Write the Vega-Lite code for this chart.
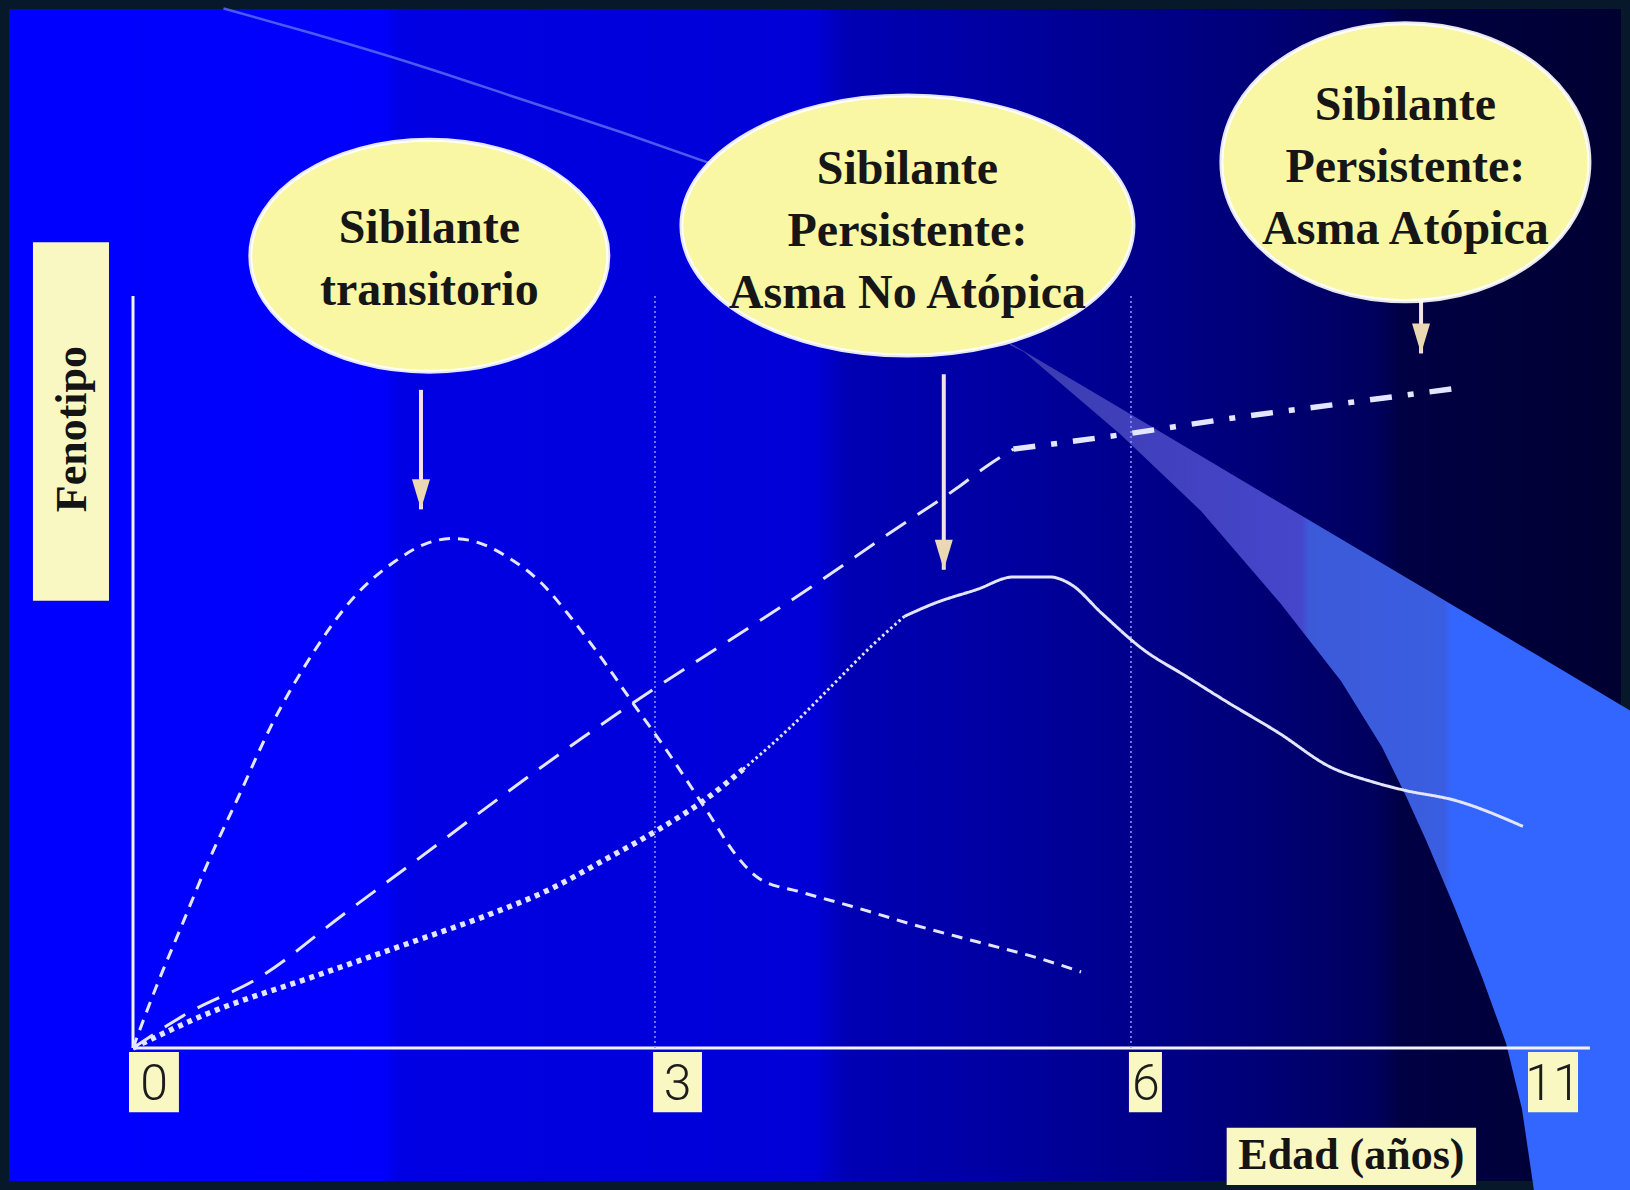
{
  "$schema": "https://vega.github.io/schema/vega-lite/v6.json",
  "width": 1630,
  "height": 1190,
  "autosize": {"type": "none"},
  "padding": 0,
  "background": "#06182a",
  "view": {
    "fill": {"gradient": "linear", "x1": 0, "y1": 0, "x2": 1, "y2": 0, "stops": [
      {"offset": 0, "color": "#0000ff"},
      {"offset": 0.235, "color": "#0000fb"},
      {"offset": 0.245, "color": "#0000e4"},
      {"offset": 0.5, "color": "#0000d6"},
      {"offset": 0.52, "color": "#0000b4"},
      {"offset": 0.62, "color": "#0000a0"},
      {"offset": 0.7, "color": "#00008a"},
      {"offset": 0.78, "color": "#000074"},
      {"offset": 0.845, "color": "#00005c"},
      {"offset": 0.86, "color": "#000044"},
      {"offset": 1, "color": "#000030"}
    ]},
    "stroke": "#06182a",
    "strokeWidth": 18
  },
  "config": {"axis": {"disable": true}, "legend": {"disable": true}},
  "datasets": {
    "arco": [
      {"edad": 0.52, "fenotipo": 138.25},
      {"edad": 1.028, "fenotipo": 134.94},
      {"edad": 1.625, "fenotipo": 130.79},
      {"edad": 2.223, "fenotipo": 126.23},
      {"edad": 2.82, "fenotipo": 121.67},
      {"edad": 3.458, "fenotipo": 116.83}
    ],
    "haz": [
      {"edad": 5.237, "borde_sup": 93.75, "borde_inf": 93.48},
      {"edad": 5.326, "borde_sup": 92.65, "borde_inf": 92.55},
      {"edad": 5.931, "borde_sup": 85.09, "borde_inf": 81.65},
      {"edad": 6.882, "borde_sup": 78.71, "borde_inf": 71.41},
      {"edad": 7.889, "borde_sup": 72.41, "borde_inf": 59.04},
      {"edad": 8.645, "borde_sup": 67.69, "borde_inf": 48.8},
      {"edad": 9.161, "borde_sup": 64.47, "borde_inf": 40.03},
      {"edad": 9.463, "borde_sup": 62.58, "borde_inf": 33.51},
      {"edad": 9.715, "borde_sup": 61.0, "borde_inf": 27.66},
      {"edad": 10.068, "borde_sup": 58.79, "borde_inf": 18.88},
      {"edad": 10.421, "borde_sup": 56.58, "borde_inf": 9.44},
      {"edad": 10.723, "borde_sup": 54.69, "borde_inf": 0.66},
      {"edad": 10.924, "borde_sup": 53.43, "borde_inf": -8.11},
      {"edad": 11.076, "borde_sup": 52.49, "borde_inf": -19},
      {"edad": 12.3, "borde_sup": 44.8, "borde_inf": -19}
    ],
    "referencias": [
      {"tipo": "eje", "x1": 0, "x2": 0, "y1": 0, "y2": 100},
      {"tipo": "eje", "x1": 0, "x2": 11.78, "y1": 0, "y2": 0},
      {"tipo": "guia", "x1": 3, "x2": 3, "y1": 0, "y2": 100},
      {"tipo": "guia", "x1": 6, "x2": 6, "y1": 0, "y2": 100}
    ],
    "curvas": [
      {"segmento": "transitorio", "edad": 0, "fenotipo": 0},
      {"segmento": "transitorio", "edad": 0.132, "fenotipo": 8.04},
      {"segmento": "transitorio", "edad": 0.281, "fenotipo": 16.34},
      {"segmento": "transitorio", "edad": 0.43, "fenotipo": 24.63},
      {"segmento": "transitorio", "edad": 0.61, "fenotipo": 33.61},
      {"segmento": "transitorio", "edad": 0.789, "fenotipo": 42.6},
      {"segmento": "transitorio", "edad": 1.028, "fenotipo": 52.28},
      {"segmento": "transitorio", "edad": 1.267, "fenotipo": 59.88},
      {"segmento": "transitorio", "edad": 1.506, "fenotipo": 64.72},
      {"segmento": "transitorio", "edad": 1.685, "fenotipo": 67.07},
      {"segmento": "transitorio", "edad": 1.834, "fenotipo": 67.76},
      {"segmento": "transitorio", "edad": 1.984, "fenotipo": 67.21},
      {"segmento": "transitorio", "edad": 2.163, "fenotipo": 65.13},
      {"segmento": "transitorio", "edad": 2.342, "fenotipo": 61.95},
      {"segmento": "transitorio", "edad": 2.521, "fenotipo": 57.11},
      {"segmento": "transitorio", "edad": 2.701, "fenotipo": 51.58},
      {"segmento": "transitorio", "edad": 2.88, "fenotipo": 45.64},
      {"segmento": "transitorio", "edad": 3.065, "fenotipo": 39.83},
      {"segmento": "transitorio", "edad": 3.327, "fenotipo": 31.54},
      {"segmento": "transitorio", "edad": 3.523, "fenotipo": 25.32},
      {"segmento": "transitorio", "edad": 3.654, "fenotipo": 22.56},
      {"segmento": "transitorio", "edad": 3.916, "fenotipo": 20.76},
      {"segmento": "transitorio", "edad": 4.244, "fenotipo": 18.82},
      {"segmento": "transitorio", "edad": 4.637, "fenotipo": 16.34},
      {"segmento": "transitorio", "edad": 5.03, "fenotipo": 14.12},
      {"segmento": "transitorio", "edad": 5.423, "fenotipo": 11.91},
      {"segmento": "transitorio", "edad": 5.685, "fenotipo": 10.11},
      {"segmento": "atopico_raya", "edad": 0, "fenotipo": 0},
      {"segmento": "atopico_raya", "edad": 0.311, "fenotipo": 4.59},
      {"segmento": "atopico_raya", "edad": 0.729, "fenotipo": 9.42},
      {"segmento": "atopico_raya", "edad": 1.207, "fenotipo": 17.72},
      {"segmento": "atopico_raya", "edad": 1.625, "fenotipo": 24.91},
      {"segmento": "atopico_raya", "edad": 2.103, "fenotipo": 33.2},
      {"segmento": "atopico_raya", "edad": 2.581, "fenotipo": 41.22},
      {"segmento": "atopico_raya", "edad": 3.0, "fenotipo": 47.85},
      {"segmento": "atopico_raya", "edad": 3.458, "fenotipo": 54.07},
      {"segmento": "atopico_raya", "edad": 3.982, "fenotipo": 61.26},
      {"segmento": "atopico_raya", "edad": 4.506, "fenotipo": 68.86},
      {"segmento": "atopico_raya", "edad": 4.899, "fenotipo": 74.39},
      {"segmento": "atopico_raya", "edad": 5.095, "fenotipo": 77.43},
      {"segmento": "atopico_raya", "edad": 5.259, "fenotipo": 79.64},
      {"segmento": "atopico_rayapunto", "edad": 5.259, "fenotipo": 79.64},
      {"segmento": "atopico_rayapunto", "edad": 5.947, "fenotipo": 81.58},
      {"segmento": "atopico_rayapunto", "edad": 7.205, "fenotipo": 83.65},
      {"segmento": "atopico_rayapunto", "edad": 8.776, "fenotipo": 85.86},
      {"segmento": "atopico_rayapunto", "edad": 10.15, "fenotipo": 87.8},
      {"segmento": "no_atopico_puntos", "edad": 0, "fenotipo": 0},
      {"segmento": "no_atopico_puntos", "edad": 0.43, "fenotipo": 4.59},
      {"segmento": "no_atopico_puntos", "edad": 1.028, "fenotipo": 9.42},
      {"segmento": "no_atopico_puntos", "edad": 1.625, "fenotipo": 14.26},
      {"segmento": "no_atopico_puntos", "edad": 2.044, "fenotipo": 17.72},
      {"segmento": "no_atopico_puntos", "edad": 2.402, "fenotipo": 21.17},
      {"segmento": "no_atopico_puntos", "edad": 2.701, "fenotipo": 24.91},
      {"segmento": "no_atopico_puntos", "edad": 3.0, "fenotipo": 28.78},
      {"segmento": "no_atopico_puntos", "edad": 3.327, "fenotipo": 33.2},
      {"segmento": "no_atopico_puntos", "edad": 3.556, "fenotipo": 37.07},
      {"segmento": "no_atopico_puntitos", "edad": 3.556, "fenotipo": 37.07},
      {"segmento": "no_atopico_puntitos", "edad": 3.851, "fenotipo": 42.6},
      {"segmento": "no_atopico_puntitos", "edad": 4.113, "fenotipo": 48.13},
      {"segmento": "no_atopico_puntitos", "edad": 4.375, "fenotipo": 53.66},
      {"segmento": "no_atopico_puntitos", "edad": 4.571, "fenotipo": 57.39},
      {"segmento": "no_atopico_continua", "edad": 4.571, "fenotipo": 57.39},
      {"segmento": "no_atopico_continua", "edad": 4.768, "fenotipo": 59.19},
      {"segmento": "no_atopico_continua", "edad": 5.03, "fenotipo": 60.98},
      {"segmento": "no_atopico_continua", "edad": 5.259, "fenotipo": 62.64},
      {"segmento": "no_atopico_continua", "edad": 5.489, "fenotipo": 62.64},
      {"segmento": "no_atopico_continua", "edad": 5.62, "fenotipo": 61.67},
      {"segmento": "no_atopico_continua", "edad": 5.816, "fenotipo": 57.8},
      {"segmento": "no_atopico_continua", "edad": 6.157, "fenotipo": 52.97},
      {"segmento": "no_atopico_continua", "edad": 6.681, "fenotipo": 49.51},
      {"segmento": "no_atopico_continua", "edad": 7.205, "fenotipo": 46.05},
      {"segmento": "no_atopico_continua", "edad": 7.859, "fenotipo": 41.91},
      {"segmento": "no_atopico_continua", "edad": 8.514, "fenotipo": 37.35},
      {"segmento": "no_atopico_continua", "edad": 9.037, "fenotipo": 35.41},
      {"segmento": "no_atopico_continua", "edad": 9.43, "fenotipo": 34.31},
      {"segmento": "no_atopico_continua", "edad": 10.085, "fenotipo": 32.92},
      {"segmento": "no_atopico_continua", "edad": 10.936, "fenotipo": 29.47}
    ],
    "flechas": [
      {"edad": 1.655, "desde": 87.52, "hasta": 71.63},
      {"edad": 4.82, "desde": 89.6, "hasta": 63.61},
      {"edad": 9.653, "desde": 102.31, "hasta": 92.36}
    ],
    "globos": [
      {"grupo": "Sibilante transitorio", "edad": 1.703, "fenotipo": 105.36, "texto": "Sibilante\ntransitorio"},
      {"grupo": "Asma no atópica", "edad": 4.591, "fenotipo": 109.36, "texto": "Sibilante\nPersistente:\nAsma No Atópica"},
      {"grupo": "Asma atópica", "edad": 9.456, "fenotipo": 117.8, "texto": "Sibilante\nPersistente:\nAsma Atópica"}
    ],
    "etiquetas": [
      {"tipo": "marca", "texto": "0", "x1": -0.023, "x2": 0.264, "y1": -0.53, "y2": -8.55, "xc": 0.121, "yc": -4.6},
      {"tipo": "marca", "texto": "3", "x1": 2.989, "x2": 3.296, "y1": -0.53, "y2": -8.55, "xc": 3.142, "yc": -4.6},
      {"tipo": "marca", "texto": "6", "x1": 5.987, "x2": 6.39, "y1": -0.53, "y2": -8.55, "xc": 6.188, "yc": -4.6},
      {"tipo": "marca", "texto": "11", "x1": 11.0, "x2": 11.63, "y1": -0.53, "y2": -8.55, "xc": 11.315, "yc": -4.6},
      {"tipo": "titulo_x", "texto": "Edad (años)", "x1": 7.205, "x2": 10.346, "y1": -10.62, "y2": -18.22, "xc": 8.776, "yc": -14.4},
      {"tipo": "titulo_y", "texto": "Fenotipo", "x1": -0.575, "x2": -0.138, "y1": 107.15, "y2": 59.46, "xc": -0.345, "yc": 82.3}
    ]
  },
  "layer": [
    {
      "data": {"name": "arco"},
      "mark": {"type": "line", "interpolate": "monotone", "color": "#5a68f0", "strokeWidth": 2.5, "opacity": 0.85},
      "encoding": {
        "x": {"field": "edad", "type": "quantitative", "scale": {"domain": [0, 3, 6, 11], "range": [133, 655, 1131, 1528], "nice": false, "zero": false}},
        "y": {"field": "fenotipo", "type": "quantitative", "scale": {"domain": [0, 100], "range": [1048, 296], "nice": false, "zero": false}}
      }
    },
    {
      "data": {"name": "haz"},
      "mark": {"type": "area", "interpolate": "linear", "color": {"gradient": "linear", "x1": 0, "y1": 0, "x2": 1, "y2": 0, "stops": [
        {"offset": 0, "color": "#3a3aae"},
        {"offset": 0.2, "color": "#4040bc"},
        {"offset": 0.47, "color": "#4646cc"},
        {"offset": 0.48, "color": "#3c5ad8"},
        {"offset": 0.7, "color": "#3a5ee2"},
        {"offset": 0.71, "color": "#3366ff"},
        {"offset": 1, "color": "#3366ff"}
      ]}},
      "encoding": {
        "x": {"field": "edad", "type": "quantitative", "scale": {"domain": [0, 3, 6, 11], "range": [133, 655, 1131, 1528], "nice": false, "zero": false}},
        "y": {"field": "borde_sup", "type": "quantitative", "scale": {"domain": [0, 100], "range": [1048, 296], "nice": false, "zero": false}},
        "y2": {"field": "borde_inf"}
      }
    },
    {
      "data": {"name": "referencias"},
      "mark": {"type": "rule"},
      "encoding": {
        "x": {"field": "x1", "type": "quantitative", "scale": {"domain": [0, 3, 6, 11], "range": [133, 655, 1131, 1528], "nice": false, "zero": false}},
        "x2": {"field": "x2"},
        "y": {"field": "y1", "type": "quantitative", "scale": {"domain": [0, 100], "range": [1048, 296], "nice": false, "zero": false}},
        "y2": {"field": "y2"},
        "color": {"condition": {"test": "datum.tipo === 'eje'", "value": "#f2f2ff"}, "value": "#8a92ff"},
        "strokeWidth": {"condition": {"test": "datum.tipo === 'eje'", "value": 3}, "value": 1.6},
        "strokeDash": {"condition": {"test": "datum.tipo === 'eje'", "value": [1, 0]}, "value": [2, 3]}
      }
    },
    {
      "data": {"name": "curvas"},
      "mark": {"type": "line", "interpolate": "monotone", "color": "#e4e6ff"},
      "encoding": {
        "x": {"field": "edad", "type": "quantitative", "scale": {"domain": [0, 3, 6, 11], "range": [133, 655, 1131, 1528], "nice": false, "zero": false}},
        "y": {"field": "fenotipo", "type": "quantitative", "scale": {"domain": [0, 100], "range": [1048, 296], "nice": false, "zero": false}},
        "detail": {"field": "segmento", "type": "nominal"},
        "strokeDash": {"field": "segmento", "type": "nominal", "scale": {
          "domain": ["transitorio", "atopico_raya", "atopico_rayapunto", "no_atopico_puntos", "no_atopico_puntitos", "no_atopico_continua"],
          "range": [[11, 8], [24, 14], [22, 16, 6, 16], [5, 5], [2.5, 3], [1, 0]]
        }},
        "strokeWidth": {"condition": {"test": "datum.segmento === 'atopico_rayapunto' || datum.segmento === 'no_atopico_puntos'", "value": 5.5}, "value": 3}
      }
    },
    {
      "data": {"name": "flechas"},
      "mark": {"type": "rule", "color": "#f4e2ea", "strokeWidth": 4},
      "encoding": {
        "x": {"field": "edad", "type": "quantitative", "scale": {"domain": [0, 3, 6, 11], "range": [133, 655, 1131, 1528], "nice": false, "zero": false}},
        "y": {"field": "desde", "type": "quantitative", "scale": {"domain": [0, 100], "range": [1048, 296], "nice": false, "zero": false}},
        "y2": {"field": "hasta"}
      }
    },
    {
      "data": {"name": "flechas"},
      "mark": {"type": "point", "shape": "M-0.6,-1L0.6,-1L0,1Z", "size": 900, "filled": true, "color": "#ead8b2", "opacity": 1, "yOffset": -15},
      "encoding": {
        "x": {"field": "edad", "type": "quantitative", "scale": {"domain": [0, 3, 6, 11], "range": [133, 655, 1131, 1528], "nice": false, "zero": false}},
        "y": {"field": "hasta", "type": "quantitative", "scale": {"domain": [0, 100], "range": [1048, 296], "nice": false, "zero": false}}
      }
    },
    {
      "data": {"name": "globos"},
      "mark": {"type": "point", "filled": true, "fill": "#f9f6a4", "stroke": "#ffffff", "strokeWidth": 4, "opacity": 1, "fillOpacity": 1, "strokeOpacity": 0.9, "size": 4},
      "encoding": {
        "x": {"field": "edad", "type": "quantitative", "scale": {"domain": [0, 3, 6, 11], "range": [133, 655, 1131, 1528], "nice": false, "zero": false}},
        "y": {"field": "fenotipo", "type": "quantitative", "scale": {"domain": [0, 100], "range": [1048, 296], "nice": false, "zero": false}},
        "shape": {"field": "grupo", "type": "nominal", "scale": {
          "domain": ["Sibilante transitorio", "Asma no atópica", "Asma atópica"],
          "range": [
            "M-179,0A179,116,0,1,0,179,0A179,116,0,1,0,-179,0Z",
            "M-226,0A226,130,0,1,0,226,0A226,130,0,1,0,-226,0Z",
            "M-184,0A184,139,0,1,0,184,0A184,139,0,1,0,-184,0Z"
          ]
        }}
      }
    },
    {
      "data": {"name": "globos"},
      "transform": [{"filter": "datum.grupo === 'Sibilante transitorio'"}],
      "mark": {"type": "text", "font": "Liberation Serif", "fontWeight": "bold", "fontSize": 48, "lineBreak": "\n", "lineHeight": 62, "color": "#161616", "align": "center", "baseline": "middle", "dy": -27},
      "encoding": {
        "x": {"field": "edad", "type": "quantitative", "scale": {"domain": [0, 3, 6, 11], "range": [133, 655, 1131, 1528], "nice": false, "zero": false}},
        "y": {"field": "fenotipo", "type": "quantitative", "scale": {"domain": [0, 100], "range": [1048, 296], "nice": false, "zero": false}},
        "text": {"field": "texto", "type": "nominal"}
      }
    },
    {
      "data": {"name": "globos"},
      "transform": [{"filter": "datum.grupo !== 'Sibilante transitorio'"}],
      "mark": {"type": "text", "font": "Liberation Serif", "fontWeight": "bold", "fontSize": 48, "lineBreak": "\n", "lineHeight": 62, "color": "#161616", "align": "center", "baseline": "middle", "dy": -56},
      "encoding": {
        "x": {"field": "edad", "type": "quantitative", "scale": {"domain": [0, 3, 6, 11], "range": [133, 655, 1131, 1528], "nice": false, "zero": false}},
        "y": {"field": "fenotipo", "type": "quantitative", "scale": {"domain": [0, 100], "range": [1048, 296], "nice": false, "zero": false}},
        "text": {"field": "texto", "type": "nominal"}
      }
    },
    {
      "data": {"name": "etiquetas"},
      "mark": {"type": "rect", "color": "#f9f7c2"},
      "encoding": {
        "x": {"field": "x1", "type": "quantitative", "scale": {"domain": [0, 3, 6, 11], "range": [133, 655, 1131, 1528], "nice": false, "zero": false}},
        "x2": {"field": "x2"},
        "y": {"field": "y1", "type": "quantitative", "scale": {"domain": [0, 100], "range": [1048, 296], "nice": false, "zero": false}},
        "y2": {"field": "y2"}
      }
    },
    {
      "data": {"name": "etiquetas"},
      "transform": [{"filter": "datum.tipo === 'marca'"}],
      "mark": {"type": "text", "font": "Roboto", "fontWeight": 300, "fontSize": 50, "color": "#1c1c1c", "align": "center", "baseline": "middle", "dy": 2},
      "encoding": {
        "x": {"field": "xc", "type": "quantitative", "scale": {"domain": [0, 3, 6, 11], "range": [133, 655, 1131, 1528], "nice": false, "zero": false}},
        "y": {"field": "yc", "type": "quantitative", "scale": {"domain": [0, 100], "range": [1048, 296], "nice": false, "zero": false}},
        "text": {"field": "texto", "type": "nominal"}
      }
    },
    {
      "data": {"name": "etiquetas"},
      "transform": [{"filter": "datum.tipo === 'titulo_x'"}],
      "mark": {"type": "text", "font": "Liberation Serif", "fontWeight": "bold", "fontSize": 44, "color": "#141414", "align": "center", "baseline": "middle"},
      "encoding": {
        "x": {"field": "xc", "type": "quantitative", "scale": {"domain": [0, 3, 6, 11], "range": [133, 655, 1131, 1528], "nice": false, "zero": false}},
        "y": {"field": "yc", "type": "quantitative", "scale": {"domain": [0, 100], "range": [1048, 296], "nice": false, "zero": false}},
        "text": {"field": "texto", "type": "nominal"}
      }
    },
    {
      "data": {"name": "etiquetas"},
      "transform": [{"filter": "datum.tipo === 'titulo_y'"}],
      "mark": {"type": "text", "font": "Liberation Serif", "fontWeight": "bold", "fontSize": 44, "color": "#141414", "align": "center", "baseline": "middle", "angle": 270},
      "encoding": {
        "x": {"field": "xc", "type": "quantitative", "scale": {"domain": [0, 3, 6, 11], "range": [133, 655, 1131, 1528], "nice": false, "zero": false}},
        "y": {"field": "yc", "type": "quantitative", "scale": {"domain": [0, 100], "range": [1048, 296], "nice": false, "zero": false}},
        "text": {"field": "texto", "type": "nominal"}
      }
    }
  ]
}
